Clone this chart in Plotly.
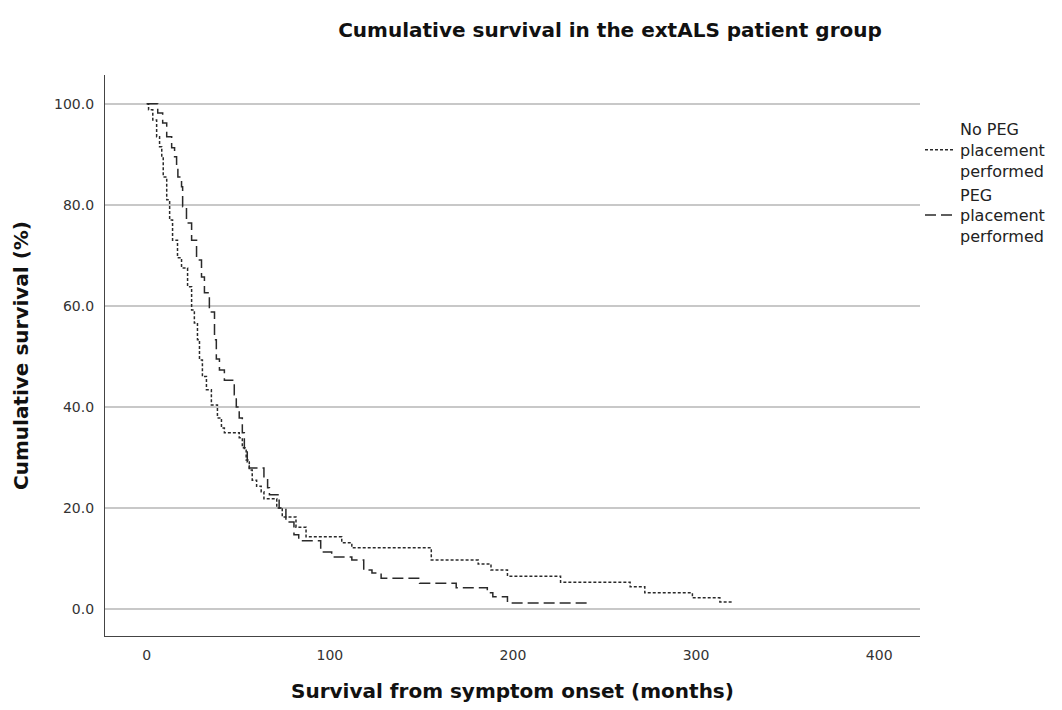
import plotly.graph_objects as go

# ---- Data ----
no_peg_months = [0, 1, 3.3, 5.4, 7, 8.2, 9, 10.9, 12.5, 14.1, 16.8, 19, 22.3, 24.5, 26,
                 27.7, 28.8, 30.4, 32.6, 35.3, 38.6, 40.8, 42.4, 50.5, 52.2, 54.3, 56,
                 57.6, 60, 62.5, 64, 71, 74, 81.5, 87, 106.5, 112, 155.4, 181, 188, 197,
                 226, 264, 272, 298, 313, 320]
no_peg_survival = [100, 98.8, 96.8, 93.5, 91.5, 89.5, 85.5, 81, 77, 73, 69.5, 67.5, 63.8,
                   59.2, 56.6, 53.3, 49.3, 46, 43.4, 40.4, 37.8, 35.8, 34.9, 33.9, 31.9,
                   29.5, 27.5, 25.5, 24.3, 23.2, 21.8, 20.0, 18.2, 16.2, 14.3, 13.1, 12.1,
                   9.7, 8.9, 7.7, 6.5, 5.3, 4.4, 3.2, 2.2, 1.4, 1.4]

peg_months = [0, 6, 8.7, 10.9, 13.6, 15.2, 16.3, 17, 19, 19.6, 21.7, 24.5, 27.2, 29.9,
              31.5, 34.2, 37, 38, 39.7, 42.4, 47.8, 48.9, 50.5, 52.2, 53.3, 54.9, 56,
              64, 66, 67, 72.3, 76, 80.4, 83, 95, 101, 112, 118.5, 123, 128, 149, 169,
              186, 189, 197, 241]
peg_survival = [100, 98.2, 96.2, 93.5, 91.3, 89.5, 87.5, 85.5, 83.6, 79.6, 76.4, 73,
                69.1, 65.7, 62.6, 58.8, 53.3, 49.5, 47.3, 45.3, 42.4, 40, 37.8, 34.9,
                31.5, 29.1, 27.9, 26, 24, 22.6, 20, 17.2, 14.7, 13.5, 11.3, 10.3, 9.7,
                7.7, 7.1, 6.1, 5.1, 4.2, 3.2, 2.4, 1.2, 1.2]

series_names = ["No PEG<br>placement<br>performed", "PEG<br>placement<br>performed"]
x_ticks = [0, 100, 200, 300, 400]
y_ticks = [0, 20, 40, 60, 80, 100]

# page body has an 8px margin, so the figure is sized/positioned accordingly
W, H = 1054, 702
OFF = 8

fig = go.Figure()
fig.add_trace(go.Scatter(
    x=no_peg_months, y=no_peg_survival, mode="lines", line_shape="hv",
    name=series_names[0],
    line=dict(color="#2a2a2a", width=1.5, dash="3px,2px")))
fig.add_trace(go.Scatter(
    x=peg_months, y=peg_survival, mode="lines", line_shape="hv",
    name=series_names[1],
    line=dict(color="#2a2a2a", width=1.5, dash="11px,5px")))

axis_font = dict(family="DejaVu Sans, sans-serif", size=20, color="#111")
tick_font = dict(family="DejaVu Sans, sans-serif", size=14, color="#333")
plot_top, plot_bottom = 75 - OFF, 636 - OFF
fig.update_layout(
    width=W, height=H,
    paper_bgcolor="white", plot_bgcolor="white",
    margin=dict(l=105 - OFF, r=W - (920 - OFF), t=plot_top, b=H - plot_bottom),
    title=dict(text="<b>Cumulative survival in the extALS patient group</b>",
               x=(610 - OFF) / W, xanchor="center", y=1 - (30 - OFF) / H, yanchor="middle",
               font=dict(family="DejaVu Sans, sans-serif", size=20, color="#111")),
    xaxis=dict(range=[-22.8, 422.3], tickvals=x_ticks, showgrid=False, zeroline=False,
               showline=True, linecolor="#444", linewidth=1.2, ticks="",
               ticklabelstandoff=6, tickfont=tick_font,
               title=dict(text="<b>Survival from symptom onset (months)</b>",
                          font=axis_font, standoff=22)),
    yaxis=dict(range=[-5.35, 105.7], tickvals=y_ticks, tickformat=".1f",
               showgrid=True, gridcolor="#c8c8c8", gridwidth=1.5, zeroline=False,
               showline=True, linecolor="#444", linewidth=1.2, ticks="",
               ticklabelstandoff=7, tickfont=tick_font,
               title=dict(text="<b>Cumulative survival (%)</b>",
                          font=axis_font, standoff=20)),
    legend=dict(x=1.0, xanchor="left", y=1 - (112 - 75) / 561, yanchor="top",
                font=dict(family="DejaVu Sans, sans-serif", size=16, color="#222"),
                bgcolor="rgba(0,0,0,0)", tracegroupgap=0, itemwidth=30),
    showlegend=True,
)

fig.write_html("out.html")
